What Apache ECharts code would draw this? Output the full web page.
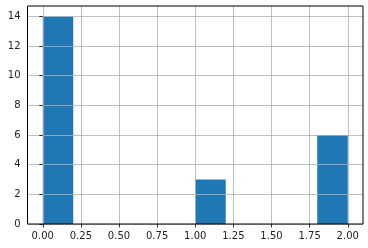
<!DOCTYPE html>
<html><head><meta charset="utf-8">
<script src="https://cdn.jsdelivr.net/npm/echarts@6/dist/echarts.min.js"></script>
<style>html,body{margin:0;padding:0;background:#fff}#c{width:368px;height:248px}</style>
</head><body><div id="c"></div>
<script>
const binEdges = [0.0, 0.2, 0.4, 0.6, 0.8, 1.0, 1.2, 1.4, 1.6, 1.8, 2.0];
const counts = [14, 0, 0, 0, 0, 3, 0, 0, 0, 6];
const xTicks = [0, 0.25, 0.5, 0.75, 1.0, 1.25, 1.5, 1.75, 2.0];
const yTicks = [0, 2, 4, 6, 8, 10, 12, 14];

const bars = counts.map((c, i) => [binEdges[i], binEdges[i + 1], c]);
const chart = echarts.init(document.getElementById('c'));
const font = 'DejaVu Sans';
chart.setOption({
  animation: false,
  grid: {left: 27.5, right: 5, top: 6, bottom: 24, show: true, borderColor: '#000', borderWidth: 1, backgroundColor: 'transparent', z: 10},
  xAxis: {
    type: 'value', min: -0.1, max: 2.1, z: 5,
    axisLine: {show: false},
    axisTick: {show: true, inside: false, length: 3.5, lineStyle: {color: '#000', width: 0.8}, customValues: xTicks},
    axisLabel: {customValues: xTicks, margin: 7, color: '#222', fontFamily: font, fontSize: 10, formatter: v => v.toFixed(2)},
    splitLine: {show: true, lineStyle: {color: '#b0b0b0', width: 0.8}}
  },
  yAxis: {
    type: 'value', min: 0, max: 14.7, z: 5,
    axisLine: {show: false},
    axisTick: {show: true, inside: false, length: 3.5, lineStyle: {color: '#000', width: 0.8}, customValues: yTicks},
    axisLabel: {customValues: yTicks, margin: 7, color: '#222', fontFamily: font, fontSize: 10},
    splitLine: {show: true, lineStyle: {color: '#b0b0b0', width: 0.8}}
  },
  series: [{
    type: 'custom', z: 1,
    renderItem: function (params, api) {
      const p0 = api.coord([api.value(0), api.value(2)]);
      const p1 = api.coord([api.value(1), 0]);
      return {type: 'rect', shape: {x: p0[0], y: p0[1], width: p1[0] - p0[0], height: p1[1] - p0[1]}, style: {fill: '#1f77b4'}};
    },
    encode: {x: [0, 1], y: 2},
    data: bars
  }]
});
</script></body></html>
